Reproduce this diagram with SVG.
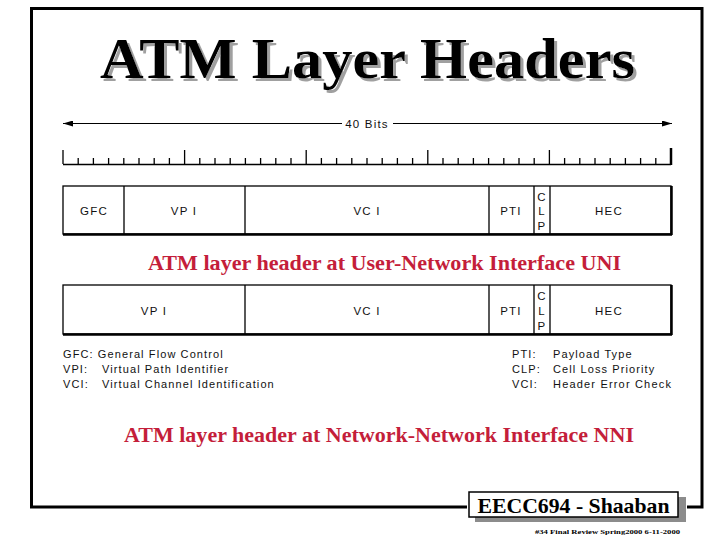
<svg xmlns="http://www.w3.org/2000/svg" width="720" height="540" viewBox="0 0 720 540">
<defs>
<style>
.fld{fill:#fff;stroke:#000;stroke-width:1.3}
.div{stroke:#000;stroke-width:1.3}
.lbl{font-family:"Liberation Sans",Arial,sans-serif;font-size:11.5px;letter-spacing:1.2px;fill:#111;text-anchor:middle}
.leg{font-family:"Liberation Sans",Arial,sans-serif;font-size:11px;letter-spacing:1.1px;fill:#111}
.cap{font-family:"Liberation Serif","Times New Roman",serif;font-weight:bold;font-size:20px;fill:#c41e3a}
.title{font-family:"Liberation Serif","Times New Roman",serif;font-weight:bold;font-size:58px}
</style>
<filter id="shadow" x="-5%" y="-20%" width="110%" height="140%">
<feDropShadow dx="3" dy="3" stdDeviation="0.6" flood-color="#a0a0a0" flood-opacity="1"/>
</filter>
<marker id="ah" viewBox="0 0 10 6" refX="10" refY="3" markerWidth="10" markerHeight="6" markerUnits="userSpaceOnUse" orient="auto-start-reverse">
<path d="M0,0 L10,3 L0,6 z" fill="#000"/>
</marker>
</defs>
<rect width="720" height="540" fill="#fff"/>
<!-- frame -->
<path d="M467,507 H31.5 V8.5 H702 V507 H687" fill="none" stroke="#000" stroke-width="3"/>
<!-- title -->
<g id="title">
<text class="title" x="100" y="78" fill="#000" filter="url(#shadow)" textLength="535" lengthAdjust="spacingAndGlyphs">ATM Layer Headers</text>
</g>
<!-- ruler -->
<g id="ruler" stroke="#000" stroke-width="1.3" fill="none">
<path d="M63,164.5 H671"/>
<path d="M63,150 V164 M184.6,150 V164 M306.2,150 V164 M427.8,150 V164 M549.4,150 V164"/>
<path d="M671,148 V165" stroke-width="2.5"/>
<path d="M78.2,158V164M93.4,158V164M108.6,158V164M123.8,158V164M139,158V164M154.2,158V164M169.4,158V164M199.8,158V164M215,158V164M230.2,158V164M245.4,158V164M260.6,158V164M275.8,158V164M291,158V164M321.4,158V164M336.6,158V164M351.8,158V164M367,158V164M382.2,158V164M397.4,158V164M412.6,158V164M443,158V164M458.2,158V164M473.4,158V164M488.6,158V164M503.8,158V164M519,158V164M534.2,158V164M564.6,158V164M579.8,158V164M595,158V164M610.2,158V164M625.4,158V164M640.6,158V164M655.8,158V164"/>
</g>
<!-- connectors -->
<g id="connectors" stroke="#000" stroke-width="1" fill="none">
<line x1="342" y1="123.5" x2="63" y2="123.5" marker-end="url(#ah)"/>
<line x1="393" y1="123.5" x2="672" y2="123.5" marker-end="url(#ah)"/>
</g>
<text class="lbl" x="367" y="127.5" font-size="11">40 Bits</text>
<!-- UNI header -->
<g id="uni-header">
<rect class="fld" x="63" y="186" width="608" height="48"/>
<path d="M63,234.5 H672 M671.5,186 V235" stroke="#000" stroke-width="2.5"/>
<path class="div" d="M124,186V234 M245,186V234 M489,186V234 M534,186V234 M550,186V234"/>
<text class="lbl" x="94" y="215">GFC</text>
<text class="lbl" x="184" y="215">VP I</text>
<text class="lbl" x="367" y="215">VC I</text>
<text class="lbl" x="511" y="215">PTI</text>
<text class="lbl" x="542" y="201" letter-spacing="0">C</text>
<text class="lbl" x="542" y="215" letter-spacing="0">L</text>
<text class="lbl" x="542" y="230" letter-spacing="0">P</text>
<text class="lbl" x="609" y="215">HEC</text>
</g>
<g id="uni-caption">
<text class="cap" x="148" y="270" textLength="473" lengthAdjust="spacingAndGlyphs">ATM layer header at User-Network Interface UNI</text>
</g>
<!-- NNI header -->
<g id="nni-header">
<rect class="fld" x="63" y="285" width="608" height="49"/>
<path d="M63,334.5 H672 M671.5,285 V335" stroke="#000" stroke-width="2.5"/>
<path class="div" d="M245,285V334 M489,285V334 M534,285V334 M550,285V334"/>
<text class="lbl" x="154" y="315">VP I</text>
<text class="lbl" x="367" y="315">VC I</text>
<text class="lbl" x="511" y="315">PTI</text>
<text class="lbl" x="542" y="300" letter-spacing="0">C</text>
<text class="lbl" x="542" y="315" letter-spacing="0">L</text>
<text class="lbl" x="542" y="330" letter-spacing="0">P</text>
<text class="lbl" x="609" y="315">HEC</text>
</g>
<!-- legend -->
<g id="legend-left">
<text class="leg" x="63" y="358">GFC: General Flow  Control</text>
<text class="leg" x="63" y="373">VPI:</text>
<text class="leg" x="102" y="373">Virtual Path Identifier</text>
<text class="leg" x="63" y="388">VCI:</text>
<text class="leg" x="102" y="388">Virtual Channel Identification</text>
</g>
<g id="legend-right">
<text class="leg" x="512" y="358">PTI:</text>
<text class="leg" x="553" y="358">Payload Type</text>
<text class="leg" x="512" y="373">CLP:</text>
<text class="leg" x="553" y="373">Cell Loss Priority</text>
<text class="leg" x="512" y="388">VCI:</text>
<text class="leg" x="553" y="388" textLength="119">Header Error Check</text>
</g>
<g id="nni-caption">
<text class="cap" x="124" y="442" textLength="510" lengthAdjust="spacingAndGlyphs">ATM layer header at Network-Network Interface NNI</text>
</g>
<!-- footer -->
<g id="footer">
<rect x="475" y="497" width="211" height="25" fill="#8c8c8c"/>
<rect x="469" y="492" width="209" height="25" fill="#fff" stroke="#000" stroke-width="1.5"/>
<text x="573.5" y="513" text-anchor="middle" font-family="'Liberation Serif','Times New Roman',serif" font-weight="bold" font-size="21" textLength="192" lengthAdjust="spacingAndGlyphs">EECC694 - Shaaban</text>
<text x="535" y="534" font-family="'Liberation Serif','Times New Roman',serif" font-weight="bold" font-size="7" textLength="145" lengthAdjust="spacingAndGlyphs">#34  Final Review   Spring2000    6-11-2000</text>
</g>
</svg>
